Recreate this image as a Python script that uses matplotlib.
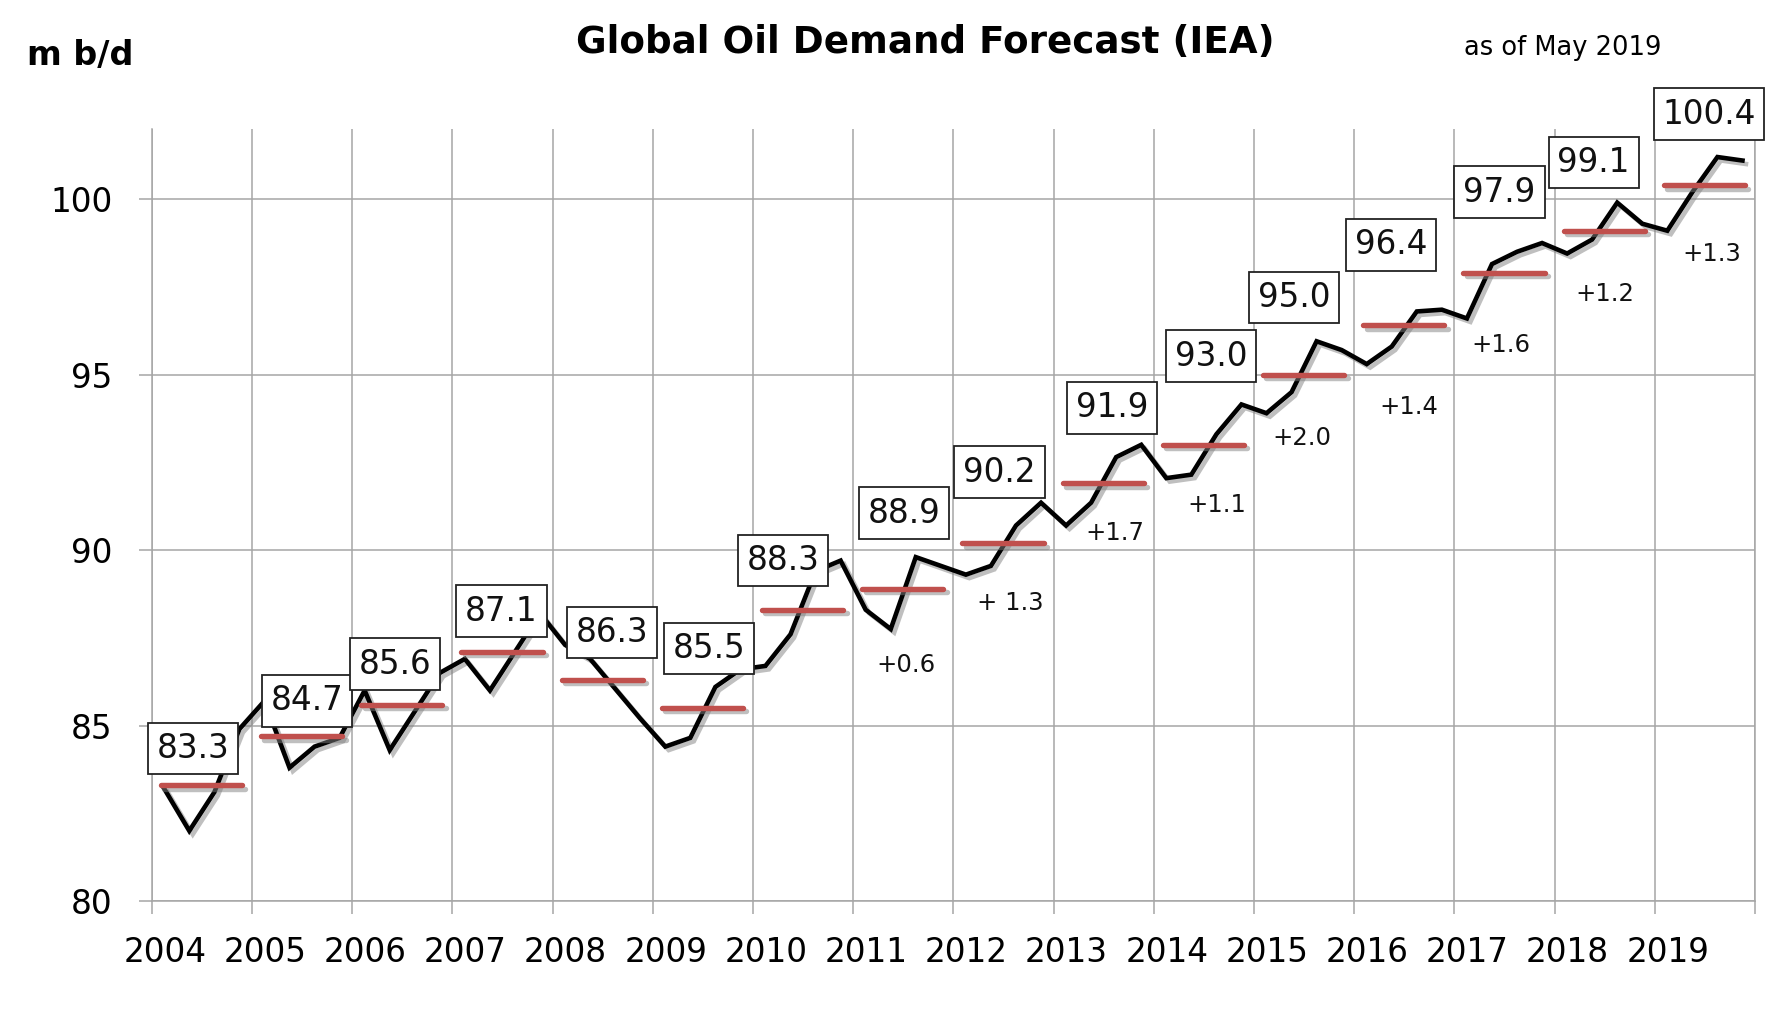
import matplotlib
matplotlib.use("Agg")
import matplotlib.pyplot as plt
import matplotlib.patheffects as pe
from matplotlib.patches import Rectangle
import numpy as np

plt.rcParams["font.family"] = "DejaVu Sans"

# quarterly demand, m b/d
years = list(range(2004, 2020))
quarterly = [
    83.2, 82.0, 83.1, 84.9,
    85.7, 83.8, 84.4, 84.65,
    86.0, 84.3, 85.4, 86.5,
    86.9, 86.0, 87.1, 88.2,
    87.3, 86.9, 86.05, 85.2,
    84.4, 84.65, 86.1, 86.6,
    86.7, 87.6, 89.4, 89.7,
    88.3, 87.75, 89.8, 89.55,
    89.3, 89.55, 90.7, 91.35,
    90.7, 91.35, 92.65, 93.0,
    92.05, 92.15, 93.3, 94.15,
    93.9, 94.5, 95.95, 95.7,
    95.3, 95.8, 96.8, 96.85,
    96.6, 98.15, 98.5, 98.75,
    98.45, 98.85, 99.9, 99.3,
    99.1, 100.2, 101.2, 101.1,
]
annual = [83.3, 84.7, 85.6, 87.1, 86.3, 85.5, 88.3, 88.9,
          90.2, 91.9, 93.0, 95.0, 96.4, 97.9, 99.1, 100.4]
annual_labels = ["83.3", "84.7", "85.6", "87.1", "86.3", "85.5", "88.3", "88.9",
                 "90.2", "91.9", "93.0", "95.0", "96.4", "97.9", "99.1", "100.4"]
change_years = [2011, 2012, 2013, 2014, 2015, 2016, 2017, 2018, 2019]
change_labels = ["+0.6", "+ 1.3", "+1.7", "+1.1", "+2.0", "+1.4", "+1.6", "+1.2", "+1.3"]

# label placement (layout only)
box_dx = [0.41, 0.55, 0.43, 0.49, 0.59, 0.56, 0.30, 0.51,
          0.46, 0.58, 0.575, 0.40, 0.37, 0.45, 0.39, 0.54]
box_y = [84.35, 85.7, 86.75, 88.26, 87.65, 87.2, 89.7, 91.05,
         92.22, 94.05, 95.53, 97.2, 98.7, 100.2, 101.04, 102.42]
chg_dx = [0.53, 0.57, 0.61, 0.63, 0.48, 0.55, 0.46, 0.50, 0.57]
chg_y = [86.72, 88.48, 90.48, 91.28, 93.18, 94.08, 95.84, 97.31, 98.45]

fig = plt.figure(figsize=(17.87, 10.09), dpi=100)
ax = fig.add_axes([0.0849, 0.107, 0.8972, 0.7652])

grid_col = "#a6a6a6"
ax.set_xlim(2004, 2020)
ax.set_ylim(80, 102)
ax.set_xticks(range(2004, 2021))
ax.set_xticklabels([])
ax.set_xticks([y + 0.13 for y in years], labels=[str(y) for y in years], minor=True)
ax.set_yticks([80, 85, 90, 95, 100])
ax.grid(True, which="major", color=grid_col, linewidth=1.1)
ax.tick_params(axis="both", which="major", length=9.4, width=1.1, color=grid_col,
               labelsize=23.5, pad=19)
ax.tick_params(axis="x", which="minor", length=0, labelsize=23.5, pad=25)
for side in ["left", "right", "bottom"]:
    ax.spines[side].set_color(grid_col)
    ax.spines[side].set_linewidth(1.1)
ax.spines["top"].set_visible(False)

shadow = [pe.SimpleLineShadow(offset=(2.5, -2.5), shadow_color="#808080", alpha=0.5),
          pe.Normal()]

qx = np.array([y + (q + 0.5) / 4 for y in years for q in range(4)])
ax.plot(qx, quarterly, color="black", linewidth=3.3, solid_joinstyle="miter",
        path_effects=shadow, zorder=3)

for i, y in enumerate(years):
    ax.plot([y + 0.09, y + 0.9], [annual[i], annual[i]], color="#c0504d",
            linewidth=3.9, solid_capstyle="round", path_effects=shadow, zorder=4)
    w = 0.2 * len(annual_labels[i]) + 0.1
    h = 1.47
    ax.add_patch(Rectangle((y + box_dx[i] - w / 2, box_y[i] - h / 2), w, h,
                           facecolor="white", edgecolor="#222222", linewidth=1.3,
                           clip_on=False, zorder=5))
    ax.text(y + box_dx[i], box_y[i], annual_labels[i], fontsize=23.5, color="#111111",
            ha="center", va="center", zorder=6)

for i, y in enumerate(change_years):
    ax.text(y + chg_dx[i], chg_y[i], change_labels[i], fontsize=17.5, color="#111111",
            ha="center", va="center", zorder=6)

fig.text(0.518, 0.958, "Global Oil Demand Forecast (IEA)", fontsize=26.8,
         fontweight="bold", ha="center", va="center")
fig.text(0.8745, 0.952, "as of May 2019", fontsize=18.5, ha="center", va="center")
fig.text(0.045, 0.945, "m b/d", fontsize=24, fontweight="bold", ha="center", va="center")

fig.savefig("out.png", dpi=100)
